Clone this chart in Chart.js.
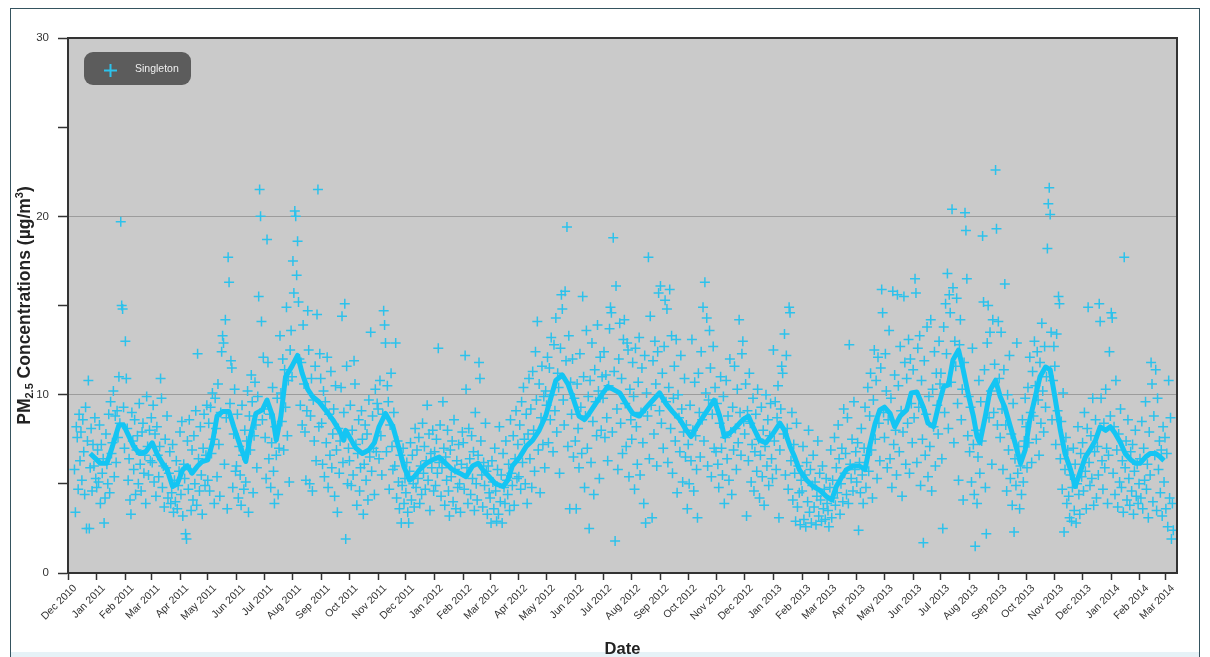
<!DOCTYPE html>
<html>
<head>
<meta charset="utf-8">
<script src="https://cdn.jsdelivr.net/npm/chart.js@4.4.1/dist/chart.umd.min.js"></script>
<style>
  html, body { margin: 0; padding: 0; background: #ffffff; }
  #wrap { position: relative; width: 1210px; height: 657px; }
  canvas { display: block; }
</style>
</head>
<body>
<div id="wrap"><canvas id="pmChart" width="1210" height="657"></canvas></div>
<script>
// Daily PM2.5 readings (µg/m³) at Singleton, one value per day from the 1st of
// each listed month; null marks a day without a reading.
const siteName = 'Singleton';

const pm2010Dec = [
  null, null, null, null, null, null, null, 5.8, 3.4, 8.2, 7.6, 4.7, 8.9, 6.3, 7.9, 5.2,
  8.6, 6.8, 4.4, 9.3, 2.5, 7.4, 10.8, 2.5, 5.9, 8.1, 4.6, 7.2, 6.0, 8.7, 5.3
];

const pm2011 = [
  // Jan
  4.8, 6.9, 5.1, 8.3, 3.9, 7.2, 5.6, 6.4, 2.8, 4.2, 7.8, 6.1, 5.0, 8.9, 4.5, 9.6, 6.7, 7.3, 10.2, 5.4,
  8.8, 6.2, 9.1, 7.6, 11.0, 8.4, 19.7, 15.0, 14.8, 9.3, 7.0,
  // Feb
  13.0, 10.9, 8.1, 5.2, 6.4, 4.1, 3.3, 9.0, 7.4, 5.8, 8.6, 4.4, 6.9, 7.7, 5.0, 9.5, 6.1, 4.6, 7.9, 8.4,
  5.6, 6.6, 3.9, 9.9, 7.1, 5.5, 8.0, 6.3,
  // Mar
  8.7, 6.2, 9.4, 5.1, 7.8, 4.3, 8.2, 6.6, 5.4, 7.1, 10.9, 9.8, 4.8, 6.0, 3.7, 7.5, 5.9, 8.8, 4.2, 5.6,
  6.8, 3.9, 4.5, 7.2, 3.4, 5.2, 4.0, 6.3, 3.6, 4.9, 5.7,
  // Apr
  7.9, 4.4, 8.5, 3.2, 6.1, 5.3, 2.2, 1.9, 7.4, 4.7, 8.6, 5.8, 3.5, 6.9, 4.1, 7.7, 5.0, 9.1, 3.8, 12.3,
  6.4, 4.6, 8.2, 5.5, 3.3, 7.0, 8.9, 4.9, 6.6, 9.4,
  // May
  5.2, 8.4, 4.6, 9.3, 6.7, 10.1, 7.5, 3.9, 9.8, 8.1, 5.4, 10.6, 7.2, 4.3, 9.0, 12.4, 13.3, 12.9, 6.1, 14.2,
  8.7, 3.6, 17.7, 16.3, 9.5, 11.9, 11.5, 4.8, 7.8, 10.3, 5.7,
  // Jun
  6.0, 8.9, 4.2, 7.1, 5.5, 3.8, 9.4, 6.6, 4.7, 8.0, 5.1, 7.4, 10.2, 3.4, 8.8, 6.9, 11.1, 9.6, 4.5, 7.7,
  10.7, 8.3, 5.9, 9.9, 15.5, 21.5, 20.0, 14.1, 8.6, 12.1,
  // Jul
  9.2, 7.6, 5.3, 18.7, 11.8, 6.4, 8.9, 4.8, 7.3, 10.4, 5.7, 3.9, 8.2, 6.6, 9.8, 4.4, 7.0, 13.3, 10.1, 8.5,
  12.0, 6.9, 11.4, 9.3, 14.9, 7.7, 10.8, 5.1, 12.5, 13.6, 11.0,
  // Aug
  17.5, 15.7, 20.3, 20.0, 16.7, 18.6, 15.2, 12.0, 9.4, 11.8, 8.3, 13.9, 10.6, 7.9, 5.2, 9.1, 14.7, 12.5, 5.0, 8.8,
  10.9, 4.6, 9.7, 7.4, 11.6, 6.3, 14.5, 21.5, 8.2, 12.3, 10.9,
  // Sep
  8.4, 6.1, 10.2, 5.4, 9.6, 7.3, 12.1, 4.8, 8.9, 6.6, 11.3, 5.9, 7.8, 9.2, 4.3, 10.5, 6.9, 3.4, 8.1, 5.6,
  7.4, 10.4, 14.4, 6.2, 9.0, 15.1, 1.9, 11.6, 5.0, 7.0,
  // Oct
  6.3, 9.4, 4.9, 8.0, 5.5, 11.9, 10.6, 7.2, 3.8, 6.7, 8.6, 4.6, 5.9, 9.1, 7.5, 3.3, 6.1, 8.3, 5.2, 7.8,
  4.1, 9.7, 6.5, 13.5, 5.7, 8.8, 7.0, 4.4, 10.3, 6.8, 9.5,
  // Nov
  9.2, 6.4, 10.8, 7.7, 5.5, 8.9, 14.7, 13.9, 12.9, 6.8, 10.5, 9.6, 4.7, 8.3, 11.2, 7.1, 5.8, 9.0, 6.0, 12.9,
  4.2, 7.4, 5.1, 3.6, 6.6, 2.8, 4.9, 7.0, 3.9, 5.3,
  // Dec
  4.5, 6.2, 3.4, 2.8, 5.7, 7.3, 4.1, 6.6, 5.0, 3.7, 8.1, 4.8, 6.9, 5.3, 7.6, 3.9, 6.0, 4.4, 8.4, 5.6,
  7.1, 4.7, 6.3, 9.4, 5.2, 7.8, 3.5, 6.7, 5.9, 8.0, 4.6
];

const pm2012 = [
  // Jan
  6.8, 4.9, 7.5, 5.6, 12.6, 6.2, 8.3, 4.3, 5.9, 9.6, 7.0, 3.8, 6.5, 5.2, 8.0, 4.6, 3.2, 6.9, 5.4, 7.4,
  4.0, 8.6, 5.8, 3.6, 6.3, 4.8, 7.2, 5.0, 3.4, 6.1, 7.9,
  // Feb
  7.3, 4.7, 12.2, 10.3, 5.9, 3.9, 8.1, 6.4, 4.4, 7.7, 5.3, 6.8, 3.5, 9.0, 5.0, 4.1, 6.6, 11.8, 10.9, 7.4,
  5.5, 3.7, 6.2, 4.9, 8.4, 5.7, 3.3, 6.0, 4.5,
  // Mar
  4.2, 2.8, 6.3, 5.1, 3.6, 7.0, 4.6, 2.9, 5.8, 3.3, 8.2, 4.0, 5.5, 2.8, 6.7, 4.8, 3.9, 7.4, 5.2, 4.4,
  6.1, 3.5, 8.6, 5.6, 4.9, 7.7, 3.8, 6.4, 9.1, 5.3, 7.2,
  // Apr
  5.4, 8.3, 4.7, 9.6, 6.2, 10.4, 7.5, 5.0, 8.9, 3.9, 7.8, 10.9, 6.4, 9.2, 4.8, 11.3, 8.0, 5.7, 12.4, 9.7,
  14.1, 6.9, 10.6, 4.5, 8.7, 11.6, 7.2, 9.9, 5.9, 10.2,
  // May
  9.4, 12.1, 7.3, 11.5, 8.6, 13.2, 10.0, 6.8, 12.8, 9.1, 14.3, 7.9, 11.2, 10.4, 5.6, 12.6, 15.6, 14.8, 9.7, 8.3,
  15.8, 11.9, 19.4, 7.1, 13.3, 3.6, 10.7, 8.9, 12.0, 6.5, 9.8,
  // Jun
  7.4, 3.6, 10.6, 8.1, 5.9, 12.3, 9.3, 6.7, 15.5, 11.0, 4.8, 8.8, 13.6, 7.0, 9.9, 2.5, 10.8, 6.2, 12.9, 8.5,
  4.4, 11.4, 9.6, 7.7, 13.9, 10.2, 5.3, 12.1, 8.0, 11.0,
  // Jul
  9.8, 12.4, 7.6, 11.1, 8.7, 6.3, 10.5, 13.7, 14.9, 14.6, 7.9, 18.8, 11.3, 1.8, 16.1, 9.2, 5.8, 12.0, 14.0, 8.4,
  10.9, 6.7, 13.1, 14.2, 9.5, 7.1, 12.9, 12.5, 5.4, 10.3, 8.6,
  // Aug
  7.5, 11.8, 9.9, 4.7, 12.6, 8.2, 6.1, 10.7, 13.2, 5.5, 9.0, 11.5, 7.3, 3.9, 12.2, 2.8, 10.1, 8.8, 17.7, 6.4,
  14.4, 9.4, 3.1, 11.9, 7.8, 13.0, 10.6, 6.0, 12.4, 15.7, 9.1,
  // Sep
  16.1, 8.4, 11.2, 7.0, 12.7, 15.3, 9.6, 14.8, 6.2, 10.4, 15.9, 8.1, 13.3, 5.6, 9.8, 11.6, 7.4, 13.1, 4.5, 10.0,
  8.7, 6.8, 12.2, 9.2, 5.1, 7.9, 10.9, 6.5, 8.3, 3.6,
  // Oct
  7.2, 5.0, 9.4, 6.3, 13.1, 8.0, 4.6, 10.7, 7.7, 5.8, 3.1, 11.2, 9.0, 6.5, 12.4, 8.6, 14.9, 7.4, 16.3, 10.1,
  14.3, 6.0, 9.7, 13.6, 11.5, 5.4, 8.9, 12.7, 7.0, 10.4, 6.8,
  // Nov
  9.5, 6.1, 4.8, 8.4, 11.0, 7.0, 5.5, 9.9, 3.9, 7.6, 10.8, 6.4, 8.8, 5.2, 12.0, 7.9, 4.4, 9.3, 6.9, 11.6,
  8.1, 5.8, 10.3, 7.3, 14.2, 9.0, 6.6, 12.3, 13.0, 8.5,
  // Dec
  7.8, 10.6, 3.2, 9.1, 6.3, 11.2, 8.4, 5.1, 7.2, 9.8, 4.6, 6.8, 8.9, 5.7, 10.3, 7.5, 4.2, 6.6, 9.3, 5.4,
  8.0, 3.8, 7.1, 10.0, 6.0, 8.6, 4.9, 7.7, 9.5, 6.4, 5.3
];

const pm2013 = [
  // Jan
  12.5, 7.4, 9.6, 5.8, 8.7, 10.5, 3.1, 6.9, 9.2, 11.6, 11.2, 7.8, 13.4, 5.5, 12.2, 8.1, 4.7, 14.9, 14.6, 6.3,
  9.0, 4.1, 7.2, 5.6, 2.9, 8.4, 3.7, 6.0, 4.5, 2.7, 5.2,
  // Feb
  4.6, 7.1, 3.0, 5.5, 2.6, 6.2, 4.0, 8.0, 3.4, 5.8, 2.8, 4.9, 6.6, 3.7, 5.1, 2.7, 4.3, 7.4, 3.2, 5.6,
  4.1, 2.9, 6.0, 3.6, 4.7, 3.0, 5.3, 3.9,
  // Mar
  3.5, 2.6, 4.8, 6.9, 3.1, 5.2, 4.2, 7.6, 3.8, 5.9, 4.5, 8.3, 6.4, 3.3, 5.0, 7.0, 4.0, 9.2, 5.6, 6.7,
  4.4, 8.7, 3.9, 12.8, 6.1, 5.3, 7.5, 4.6, 9.6, 5.8, 6.8,
  // Apr
  5.1, 7.3, 2.4, 6.2, 4.5, 8.1, 5.5, 3.9, 7.0, 9.3, 4.8, 6.6, 10.4, 5.7, 8.8, 11.2, 6.9, 4.2, 9.7, 12.5,
  7.5, 10.8, 5.3, 12.1, 8.4, 6.3, 11.5, 15.9, 14.6, 9.0,
  // May
  7.6, 12.3, 10.2, 5.9, 8.6, 13.6, 6.4, 9.8, 4.8, 15.8, 7.2, 11.1, 8.0, 5.5, 15.6, 10.5, 6.8, 12.7, 9.1, 4.3,
  7.9, 15.5, 11.8, 6.1, 10.9, 8.4, 13.1, 5.6, 12.0, 9.5, 7.3,
  // Jun
  11.4, 8.7, 16.5, 15.7, 6.2, 12.6, 9.3, 13.3, 4.9, 10.8, 7.5, 1.7, 11.9, 6.6, 8.9, 13.8, 5.4, 9.9, 7.1, 14.2,
  4.6, 10.3, 8.2, 12.4, 6.0, 11.2, 9.4, 7.8, 13.0, 10.6,
  // Jul
  11.2, 6.4, 2.5, 13.8, 9.0, 15.1, 12.3, 16.8, 8.1, 15.6, 14.6, 10.7, 20.4, 16.0, 7.3, 13.0, 11.6, 15.4, 9.5, 5.2,
  12.8, 14.2, 8.6, 10.3, 4.1, 11.8, 20.2, 19.2, 16.5, 7.7, 9.9,
  // Aug
  6.8, 9.3, 5.1, 12.6, 7.2, 4.4, 1.5, 8.0, 3.9, 6.5, 10.8, 5.6, 9.6, 7.4, 18.9, 15.2, 11.4, 4.8, 2.2, 12.9,
  15.0, 8.7, 13.5, 10.2, 6.1, 14.2, 9.0, 11.7, 22.6, 19.3, 8.3,
  // Sep
  14.1, 10.9, 7.6, 13.5, 9.2, 5.8, 11.4, 16.2, 8.3, 4.6, 10.0, 6.9, 12.2, 5.3, 7.8, 3.8, 9.5, 2.3, 6.4, 4.9,
  12.9, 5.6, 7.1, 3.6, 6.0, 4.4, 8.6, 5.1, 7.4, 9.8,
  // Oct
  8.2, 5.9, 10.4, 7.3, 12.1, 9.0, 6.2, 11.3, 8.8, 13.0, 10.5, 7.5, 12.4, 9.7, 6.6, 11.8, 8.4, 14.0, 10.2, 7.9,
  12.7, 9.3, 11.0, 18.2, 20.7, 21.6, 20.1, 13.5, 8.6, 10.8, 12.7,
  // Nov
  11.6, 7.2, 13.4, 9.1, 15.5, 15.1, 6.4, 8.5, 4.7, 10.1, 2.3, 5.8, 7.6, 3.9, 6.9, 4.3, 3.1, 5.5, 2.9, 4.8,
  7.0, 3.5, 6.1, 2.8, 5.0, 8.2, 4.4, 3.3, 6.7, 5.4,
  // Dec
  7.3, 4.6, 9.0, 5.7, 3.6, 8.1, 14.9, 6.2, 4.9, 7.7, 5.3, 9.8, 3.8, 6.8, 8.6, 4.2, 7.1, 5.5, 15.1, 14.1,
  9.8, 6.3, 4.7, 8.4, 5.9, 10.3, 7.0, 3.9, 6.6, 12.4, 8.8
];

const pm2014 = [
  // Jan
  14.6, 14.3, 5.6, 8.2, 4.4, 10.8, 6.9, 3.7, 7.8, 5.1, 9.2, 4.8, 6.3, 3.4, 17.7, 5.9, 7.4, 4.1, 8.6, 5.3,
  3.8, 6.8, 4.6, 7.2, 3.3, 5.7, 8.0, 4.3, 6.1, 3.9, 5.0,
  // Feb
  6.4, 4.2, 8.5, 3.6, 7.0, 5.2, 9.6, 4.7, 6.1, 3.1, 7.9, 5.5, 11.8, 10.6, 4.0, 8.8, 6.6, 11.4, 3.5, 9.8,
  5.8, 7.4, 4.5, 6.9, 3.2, 8.2, 5.1, 7.6,
  // Mar
  3.6, 6.7, 2.6, 10.8, 4.2, 8.7, 1.9, 3.9, 2.4
];

// Running-mean trend: day number (counted from 1 Dec 2010) and concentration.
const trendDay = [
  24, 30, 35, 42, 48, 55, 60, 66, 71, 77, 84, 91, 96, 102, 107, 113, 118, 124, 129, 134,
  140, 145, 151, 156, 161, 167, 174, 179, 185, 192, 197, 203, 210, 215, 221, 225, 230, 235, 242, 248,
  253, 259, 264, 271, 278, 286, 293, 298, 300, 306, 311, 318, 325, 331, 336, 343, 351, 358, 363, 369,
  374, 380, 387, 394, 401, 408, 415, 423, 430, 437, 443, 448, 455, 462, 470, 475, 480, 488, 495, 502,
  509, 516, 522, 527, 534, 540, 545, 552, 558, 563, 570, 578, 583, 589, 596, 603, 610, 617, 625, 632,
  639, 646, 653, 661, 668, 673, 679, 684, 691, 698, 704, 709, 715, 722, 729, 735, 740, 747, 754, 762,
  769, 774, 780, 785, 790, 798, 805, 812, 819, 825, 830, 836, 841, 848, 855, 861, 866, 872, 877, 882,
  888, 893, 899, 906, 911, 917, 924, 929, 935, 940, 946, 951, 956, 962, 967, 973, 978, 982, 985, 991,
  996, 1002, 1007, 1012, 1018, 1023, 1029, 1034, 1039, 1045, 1050, 1056, 1061, 1066, 1072, 1077, 1083, 1088, 1093, 1099,
  1104, 1110, 1115, 1121, 1126, 1131, 1137, 1142, 1148, 1153, 1158, 1164, 1169, 1175, 1180, 1184
];
const trendValue = [
  6.7, 6.4, 6.15, 6.15, 7.1, 8.3, 8.3, 7.65, 7.1, 6.7, 6.8, 7.3, 6.7, 6.15, 5.8, 4.85, 5.0, 5.8, 6.0, 5.6,
  6.0, 6.25, 6.35, 7.3, 8.8, 9.05, 9.05, 8.2, 7.3, 6.25, 7.65, 8.95, 9.15, 9.7, 8.8, 7.45, 8.8, 11.0, 11.6, 12.2,
  11.2, 10.3, 9.9, 9.6, 9.15, 8.6, 8.0, 7.45, 8.0, 7.45, 7.0, 6.7, 6.9, 7.3, 8.2, 8.95, 8.2, 6.9, 5.95, 5.2,
  5.4, 5.8, 6.15, 6.35, 6.5, 6.15, 5.8, 5.6, 5.4, 6.0, 6.15, 5.8, 5.4, 5.0, 4.85, 5.2, 6.0, 6.5, 7.1, 7.45,
  8.0, 8.8, 9.9, 10.8, 11.1, 10.6, 9.9, 8.8, 8.6, 8.95, 9.5, 10.1, 10.45, 10.3, 10.1, 9.5, 8.95, 8.8, 9.3, 9.7,
  10.1, 9.5, 9.05, 8.6, 8.0, 7.65, 8.2, 8.6, 9.15, 9.7, 8.8, 7.65, 7.85, 8.2, 8.6, 8.8, 8.2, 7.45, 7.3, 7.85,
  8.4, 8.0, 7.1, 6.5, 5.8, 5.2, 4.85, 4.65, 4.3, 4.1, 4.85, 5.4, 5.8, 6.0, 6.0, 5.8, 7.1, 8.4, 9.15, 9.3,
  8.95, 8.2, 8.8, 9.15, 10.1, 10.15, 9.3, 8.4, 8.2, 9.3, 10.45, 10.55, 11.95, 12.5, 11.4, 9.9, 8.8, 7.65, 7.3, 8.8,
  10.25, 10.8, 9.9, 9.3, 8.2, 7.3, 6.15, 6.9, 8.6, 9.9, 11.0, 11.55, 11.4, 9.9, 8.0, 6.7, 5.8, 4.85, 5.6, 6.5,
  6.9, 7.45, 8.2, 8.0, 8.2, 7.85, 7.3, 6.7, 6.35, 6.15, 6.15, 6.5, 6.7, 6.7, 6.5, 6.3
];

const monthLabels = [
  'Dec 2010', 'Jan 2011', 'Feb 2011', 'Mar 2011', 'Apr 2011', 'May 2011', 'Jun 2011', 'Jul 2011',
  'Aug 2011', 'Sep 2011', 'Oct 2011', 'Nov 2011', 'Dec 2011', 'Jan 2012', 'Feb 2012', 'Mar 2012',
  'Apr 2012', 'May 2012', 'Jun 2012', 'Jul 2012', 'Aug 2012', 'Sep 2012', 'Oct 2012', 'Nov 2012',
  'Dec 2012', 'Jan 2013', 'Feb 2013', 'Mar 2013', 'Apr 2013', 'May 2013', 'Jun 2013', 'Jul 2013',
  'Aug 2013', 'Sep 2013', 'Oct 2013', 'Nov 2013', 'Dec 2013', 'Jan 2014', 'Feb 2014', 'Mar 2014'
];
const yLabelledTicks = [0, 10, 20, 30];
const yGridValues = [10, 20];

// ---------------------------------------------------------------------------
const MONTH_ABBR = ['Jan', 'Feb', 'Mar', 'Apr', 'May', 'Jun', 'Jul', 'Aug', 'Sep', 'Oct', 'Nov', 'Dec'];
const MS_PER_DAY = 86400000;
const ORIGIN = Date.UTC(2010, 11, 1);
const dayNumber = (year, month, day) => Math.round((Date.UTC(year, month, day) - ORIGIN) / MS_PER_DAY);

const monthDays = monthLabels.map(label => {
  const [mon, yr] = label.split(' ');
  return dayNumber(+yr, MONTH_ABBR.indexOf(mon), 1);
});

const dailyPoints = [];
function addDaily(year, firstMonth, values) {
  values.forEach((v, i) => {
    if (v !== null) dailyPoints.push({ x: dayNumber(year, firstMonth, 1 + i), y: v });
  });
}
addDaily(2010, 11, pm2010Dec);
addDaily(2011, 0, pm2011);
addDaily(2012, 0, pm2012);
addDaily(2013, 0, pm2013);
addDaily(2014, 0, pm2014);

const trendPoints = trendDay.map((d, i) => ({ x: d, y: trendValue[i] }));

const FONT = "'Liberation Sans', Arial, Helvetica, sans-serif";
const CYAN_POINT = '#2cc2ec';
const CYAN_LINE = '#14c5f3';

// Backdrop, frames, legend and axis titles.
const decor = {
  id: 'decor',
  beforeDraw(chart) {
    const { ctx, chartArea: a } = chart;
    ctx.save();
    ctx.fillStyle = '#ffffff';
    ctx.fillRect(0, 0, chart.width, chart.height);
    ctx.fillStyle = '#e6f2f7';
    ctx.fillRect(11, 652, chart.width - 22, chart.height - 652);
    ctx.fillStyle = '#cacaca';
    ctx.fillRect(a.left, a.top, a.right - a.left, a.bottom - a.top);
    ctx.restore();
  },
  afterDraw(chart) {
    const { ctx, chartArea: a } = chart;
    ctx.save();

    // outer frame of the figure
    ctx.strokeStyle = '#35535f';
    ctx.lineWidth = 1;
    ctx.strokeRect(10.5, 8.5, 1189, 660);

    // plot frame: top and right edges
    ctx.strokeStyle = '#333333';
    ctx.lineWidth = 2;
    ctx.beginPath();
    ctx.moveTo(a.left, a.top);
    ctx.lineTo(a.right, a.top);
    ctx.lineTo(a.right, a.bottom);
    ctx.stroke();

    // legend
    const lx = 84, ly = 52, lw = 107, lh = 33, r = 9;
    ctx.fillStyle = '#5c5c5c';
    ctx.beginPath();
    ctx.moveTo(lx + r, ly);
    ctx.arcTo(lx + lw, ly, lx + lw, ly + lh, r);
    ctx.arcTo(lx + lw, ly + lh, lx, ly + lh, r);
    ctx.arcTo(lx, ly + lh, lx, ly, r);
    ctx.arcTo(lx, ly, lx + lw, ly, r);
    ctx.closePath();
    ctx.fill();
    ctx.strokeStyle = CYAN_POINT;
    ctx.lineWidth = 2;
    ctx.beginPath();
    ctx.moveTo(104, 70.5); ctx.lineTo(117, 70.5);
    ctx.moveTo(110.5, 64); ctx.lineTo(110.5, 77);
    ctx.stroke();
    ctx.fillStyle = '#f0f0f0';
    ctx.font = '10.5px ' + FONT;
    ctx.textBaseline = 'middle';
    ctx.textAlign = 'left';
    ctx.fillText(chart.data.datasets[1].label, 135, 69.5);

    // x-axis title
    ctx.fillStyle = '#222222';
    ctx.font = 'bold 16.5px ' + FONT;
    ctx.textAlign = 'center';
    ctx.fillText('Date', (a.left + a.right) / 2, 649);

    // y-axis title with subscript / superscript
    const parts = [
      { t: 'PM', size: 17.5, dy: 0 },
      { t: '2.5', size: 11, dy: 5 },
      { t: ' Concentrations (µg/m', size: 17.5, dy: 0 },
      { t: '3', size: 11, dy: -5.5 },
      { t: ')', size: 17.5, dy: 0 }
    ];
    let total = 0;
    parts.forEach(p => { ctx.font = 'bold ' + p.size + 'px ' + FONT; p.w = ctx.measureText(p.t).width; total += p.w; });
    ctx.translate(25, (a.top + a.bottom) / 2);
    ctx.rotate(-Math.PI / 2);
    ctx.textAlign = 'left';
    ctx.textBaseline = 'middle';
    let x = -total / 2;
    parts.forEach(p => {
      ctx.font = 'bold ' + p.size + 'px ' + FONT;
      ctx.fillText(p.t, x, p.dy);
      x += p.w;
    });
    ctx.restore();
  }
};

new Chart(document.getElementById('pmChart'), {
  type: 'scatter',
  data: {
    datasets: [
      {
        type: 'line',
        label: siteName + ' running mean',
        data: trendPoints,
        borderColor: CYAN_LINE,
        borderWidth: 5,
        pointRadius: 0,
        tension: 0,
        fill: false,
        borderJoinStyle: 'round',
        order: 1
      },
      {
        type: 'scatter',
        label: siteName,
        data: dailyPoints,
        pointStyle: 'cross',
        pointRadius: 5,
        pointBorderWidth: 1.5,
        borderColor: CYAN_POINT,
        backgroundColor: CYAN_POINT,
        showLine: false,
        order: 2
      }
    ]
  },
  options: {
    responsive: false,
    animation: false,
    devicePixelRatio: 1,
    layout: { padding: { left: 0, top: 38, right: 33, bottom: 0 } },
    plugins: { legend: { display: false }, tooltip: { enabled: false } },
    scales: {
      x: {
        type: 'linear',
        min: 0,
        max: dayNumber(2014, 2, 13),
        afterBuildTicks: scale => { scale.ticks = monthDays.map(v => ({ value: v })); },
        afterFit: scale => { scale.height = 84; },
        ticks: {
          autoSkip: false,
          minRotation: 45,
          maxRotation: 45,
          padding: 2,
          labelOffset: 7,
          color: '#333333',
          font: { family: FONT, size: 10.5 },
          callback: (value, index) => monthLabels[index]
        },
        grid: { drawOnChartArea: false, drawTicks: true, tickLength: 7, tickColor: '#333333', tickWidth: 1.5 },
        border: { color: '#333333', width: 2 }
      },
      y: {
        min: 0,
        max: 30,
        afterFit: scale => { scale.width = 68; },
        ticks: {
          stepSize: 5,
          padding: 9,
          color: '#333333',
          font: { family: FONT, size: 11.5 },
          callback: v => (yLabelledTicks.includes(v) ? String(v) : '')
        },
        grid: {
          color: ctx => (ctx.tick && yGridValues.includes(ctx.tick.value) ? '#9c9c9c' : 'rgba(0,0,0,0)'),
          lineWidth: 1,
          tickLength: 10,
          tickColor: '#333333',
          tickWidth: 1.5
        },
        border: { color: '#333333', width: 2 }
      }
    }
  },
  plugins: [decor]
});
</script>
</body>
</html>
